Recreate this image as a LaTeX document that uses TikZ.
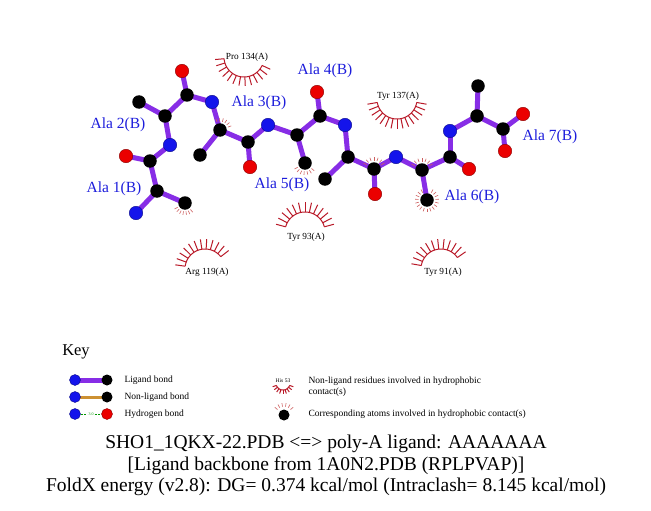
\documentclass[tikz,border=0pt]{standalone}
\usepackage{fontspec}
\setmainfont{Liberation Serif}
\usetikzlibrary{backgrounds}
\definecolor{lig}{RGB}{135,45,230}
\definecolor{nbl}{RGB}{20,20,235}
\definecolor{ored}{RGB}{235,0,0}
\definecolor{hydc}{RGB}{185,25,40}
\definecolor{spkc}{RGB}{205,95,95}
\definecolor{labc}{RGB}{30,30,220}
\definecolor{nlig}{RGB}{205,145,50}
\definecolor{hbg}{RGB}{0,150,0}
% hydrophobic arc: cx cy r R a1 a2 n
\newcommand{\hydarc}[7]{%
  \draw[hyd] plot[domain=#5:#6,samples=40,variable=\t] ({#1+#3*cos(\t)},{#2+#3*sin(\t)});
  \foreach \k in {0,...,#7}{%
    \pgfmathsetmacro\ang{#5+(#6-#5)*\k/#7}%
    \draw[hyd] ({#1+#3*cos(\ang)},{#2+#3*sin(\ang)}) -- ({#1+#4*cos(\ang)},{#2+#4*sin(\ang)});}}
% atom spikes: cx cy a1 a2 n
\newcommand{\atspk}[5]{%
  \foreach \k in {0,...,#5}{%
    \pgfmathsetmacro\ang{#3+(#4-#3)*\k/#5}%
    \draw[spk] ({#1+8.5*cos(\ang)},{#2+8.5*sin(\ang)}) -- ({#1+12*cos(\ang)},{#2+12*sin(\ang)});}}
\begin{document}
\begin{tikzpicture}[x=1pt,y=-1pt,
  atom/.style={circle,inner sep=0pt,minimum size=13.5pt},
  catom/.style={atom,fill=black},
  natom/.style={atom,fill=nbl,draw=nbl!60!black,line width=0.4pt},
  oatom/.style={atom,fill=ored,draw=ored!60!black,line width=0.4pt},
  katom/.style={minimum size=11pt},
  bond/.style={lig,line width=5pt},
  nlbond/.style={nlig,line width=3pt},
  hbond/.style={hbg,line width=0.8pt,dash pattern=on 2pt off 1.5pt},
  alab/.style={text=labc,font=\fontsize{15.5}{17}\selectfont},
  rlab/.style={font=\fontsize{9.3}{11}\selectfont},
  klab/.style={font=\fontsize{9.5}{11}\selectfont,anchor=west},
  tlab/.style={font=\fontsize{19.5}{22}\selectfont},
  hyd/.style={hydc,line width=1pt},
  spk/.style={spkc,line width=0.6pt},
]
\useasboundingbox (0,0) rectangle (651,511);
\begin{scope}[on background layer]
\fill[white] (0,0) rectangle (651,511);
\end{scope}
% atoms
\node[natom] (N1) at (136,213) {};
\node[catom] (CA1) at (157,191) {};
\node[catom] (CB1) at (185,203) {};
\node[catom] (C1) at (150,161) {};
\node[oatom] (O1) at (126,156) {};
\node[natom] (N2) at (170,145) {};
\node[catom] (CA2) at (165,116) {};
\node[catom] (CB2) at (139,102) {};
\node[catom] (C2) at (187,95) {};
\node[oatom] (O2) at (182,71) {};
\node[natom] (N3) at (212,102) {};
\node[catom] (CA3) at (220,130) {};
\node[catom] (CB3) at (200,155) {};
\node[catom] (C3) at (248,142) {};
\node[oatom] (O3) at (250,167) {};
\node[natom] (N4) at (268,125) {};
\node[catom] (CA4) at (297,135) {};
\node[catom] (CB4) at (305,163) {};
\node[catom] (C4) at (320,116) {};
\node[oatom] (O4) at (317,92) {};
\node[natom] (N5) at (345,125) {};
\node[catom] (CA5) at (348,157) {};
\node[catom] (CB5) at (325,179) {};
\node[catom] (C5) at (374,169) {};
\node[oatom] (O5) at (375,194) {};
\node[natom] (N6) at (396,157) {};
\node[catom] (CA6) at (422,170) {};
\node[catom] (CB6) at (427,200) {};
\node[catom] (C6) at (450,157) {};
\node[oatom] (O6) at (469,169) {};
\node[natom] (N7) at (450,131) {};
\node[catom] (CA7) at (477,116) {};
\node[catom] (CB7) at (478,86) {};
\node[catom] (C7) at (503,129) {};
\node[oatom] (O7a) at (523,114) {};
\node[oatom] (O7b) at (505,151) {};
% bonds
\begin{scope}[on background layer]
\foreach \a/\b in {N1/CA1,CA1/CB1,CA1/C1,C1/O1,C1/N2,N2/CA2,CA2/CB2,CA2/C2,C2/O2,C2/N3,
  N3/CA3,CA3/CB3,CA3/C3,C3/O3,C3/N4,N4/CA4,CA4/CB4,CA4/C4,C4/O4,C4/N5,
  N5/CA5,CA5/CB5,CA5/C5,C5/O5,C5/N6,N6/CA6,CA6/CB6,CA6/C6,C6/O6,C6/N7,
  N7/CA7,CA7/CB7,CA7/C7,C7/O7a,C7/O7b}
  \draw[bond] (\a.center) -- (\b.center);
\end{scope}
% contact spikes on atoms
\atspk{185}{203}{50}{150}{6}
\atspk{220}{130}{250}{340}{5}
\atspk{305}{163}{40}{150}{6}
\atspk{374}{169}{210}{330}{6}
\atspk{422}{170}{210}{330}{6}
\atspk{427}{200}{-60}{240}{16}
% residue labels
\node[alab] (L1) at (114,189) {Ala 1(B)};
\node[alab] (L2) at (118,125) {Ala 2(B)};
\node[alab] (L3) at (259,103) {Ala 3(B)};
\node[alab] (L4) at (325,71) {Ala 4(B)};
\node[alab] (L5) at (282,185) {Ala 5(B)};
\node[alab] (L6) at (472,197) {Ala 6(B)};
\node[alab] (L7) at (550,137) {Ala 7(B)};
% hydrophobic residues
\node[rlab] (R134) at (247,57) {Pro 134(A)};
\hydarc{244}{57}{20}{29}{25}{175}{12}
\node[rlab] (R137) at (398,96) {Tyr 137(A)};
\hydarc{397}{99}{20}{30}{10}{170}{14}
\node[rlab] (R93) at (306,237) {Tyr 93(A)};
\hydarc{305}{232}{20}{30}{195}{345}{12}
\node[rlab] (R119) at (207,272) {Arg 119(A)};
\hydarc{205}{269}{20}{30}{188}{322}{11}
\node[rlab] (R91) at (443,272) {Tyr 91(A)};
\hydarc{441}{269}{20}{30}{190}{325}{11}
% key
\node[font=\fontsize{16.5}{19}\selectfont] (key) at (76,352) {Key};
\node[natom,katom] (k1a) at (75,380) {};
\node[catom,katom] (k1b) at (107,380) {};
\node[natom,katom] (k2a) at (75,397) {};
\node[catom,katom] (k2b) at (107,397) {};
\node[natom,katom] (k3a) at (75,414) {};
\node[oatom,katom] (k3b) at (107,414) {};
\begin{scope}[on background layer]
\draw[bond] (k1a.center) -- (k1b.center);
\draw[nlbond] (k2a.center) -- (k2b.center);
\end{scope}
\draw[hbond] (k3a) -- (k3b) node[midway,fill=white,inner sep=0.3pt,text=hbg,font=\fontsize{4}{4}\selectfont] {3.0};
\node[klab] (t1) at (121,380) {Ligand bond};
\node[klab] (t2) at (121,397) {Non-ligand bond};
\node[klab] (t3) at (121,414) {Hydrogen bond};
\node[font=\fontsize{5.5}{6}\selectfont] (his) at (283,381) {His 53};
\hydarc{283}{383}{7}{11}{20}{160}{8}
\node[klab,align=left] (t4) at (305,387) {Non-ligand residues involved in hydrophobic\\contact(s)};
\node[catom,katom] (k4) at (284,415) {};
\atspk{284}{415}{220}{320}{5}
\node[klab] (t5) at (305,414) {Corresponding atoms involved in hydrophobic contact(s)};
% title
\node[tlab] (ti1) at (326,444) {SHO1\_1QKX-22.PDB <=> poly-A ligand: AAAAAAA};
\node[tlab] (ti2) at (326,466) {[Ligand backbone from 1A0N2.PDB (RPLPVAP)]};
\node[tlab] (ti3) at (326,487) {FoldX energy (v2.8): DG= 0.374 kcal/mol (Intraclash= 8.145 kcal/mol)};
\end{tikzpicture}
\end{document}
